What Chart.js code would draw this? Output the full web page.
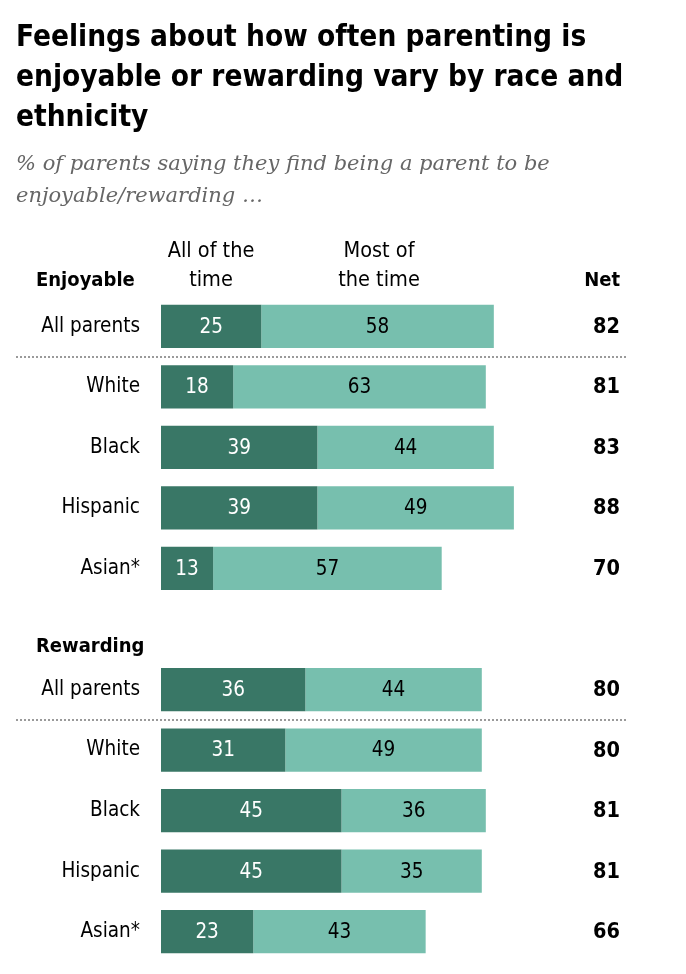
<!DOCTYPE html>
<html>
<head>
<meta charset="utf-8">
<script src="https://cdn.jsdelivr.net/npm/chart.js@4.4.1/dist/chart.umd.min.js"></script>
<style>
  html, body { margin: 0; padding: 0; background: #fff; }
  #wrap { position: relative; width: 686px; height: 974px; overflow: hidden; }
  #c { position: absolute; left: 0; top: 0; }
  #title { position: absolute; left: 16px; top: 16px; width: 670px;
    font-family: "DejaVu Sans Condensed", "Liberation Sans Narrow", sans-serif;
    font-weight: bold; font-size: 29.5px; line-height: 40px; color: #000; }
  #sub { position: absolute; left: 16px; top: 147px; width: 670px;
    font-family: "DejaVu Serif", "Liberation Serif", serif; font-style: italic;
    font-size: 21px; line-height: 32px; color: #666; }
</style>
</head>
<body>
<div id="wrap">
  <canvas id="c" width="686" height="974"></canvas>
  <div id="title">Feelings about how often parenting is<br>enjoyable or rewarding vary by race and<br>ethnicity</div>
  <div id="sub">% of parents saying they find being a parent to be<br>enjoyable/rewarding …</div>
</div>
<script>
const categories = ["All parents", "White", "Black", "Hispanic", "Asian*", "", "All parents", "White", "Black", "Hispanic", "Asian*"];
const allOfTheTime = [25, 18, 39, 39, 13, null, 36, 31, 45, 45, 23];
const mostOfTheTime = [58, 63, 44, 49, 57, null, 44, 49, 36, 35, 43];
const netValues = [82, 81, 83, 88, 70, null, 80, 80, 81, 81, 66];
const seriesNames = ["All of the time", "Most of the time"];
const sectionNames = ["Enjoyable", "Rewarding"];

const FONT = '"DejaVu Sans Condensed", "Liberation Sans Narrow", sans-serif';
const DARK = '#397766';
const LIGHT = '#77bfae';

const overlay = {
  id: 'overlay',
  afterDatasetsDraw(chart) {
    const ctx = chart.ctx;
    const ys = chart.scales.y;
    ctx.save();
    chart.data.datasets.forEach((ds, di) => {
      const meta = chart.getDatasetMeta(di);
      meta.data.forEach((el, i) => {
        const v = ds.data[i];
        if (v == null) return;
        const cx = (el.x + el.base) / 2;
        ctx.font = '20.5px ' + FONT;
        ctx.fillStyle = di === 0 ? '#fff' : '#000';
        ctx.textAlign = 'center';
        ctx.textBaseline = 'middle';
        ctx.fillText(String(v), cx, el.y + 1);
      });
    });
    const netX = 620;
    ctx.font = 'bold 21.5px ' + FONT;
    ctx.fillStyle = '#000';
    ctx.textAlign = 'right';
    ctx.textBaseline = 'middle';
    netValues.forEach((v, i) => {
      if (v == null) return;
      ctx.fillText(String(v), netX, ys.getPixelForValue(i) + 1);
    });
    const step = ys.getPixelForValue(1) - ys.getPixelForValue(0);
    const hdrY = ys.getPixelForValue(0) - step * 0.75;
    ctx.font = 'bold 20px ' + FONT;
    ctx.fillText('Net', netX, hdrY);
    ctx.textAlign = 'left';
    ctx.fillText(sectionNames[0], 36, hdrY);
    ctx.fillText(sectionNames[1], 36, ys.getPixelForValue(6) - step * 0.7);
    ctx.font = '21.5px ' + FONT;
    ctx.textAlign = 'center';
    const h1x = 211, h2x = 379;
    ctx.fillText('All of the', h1x, hdrY - 29);
    ctx.fillText('time', h1x, hdrY);
    ctx.fillText('Most of', h2x, hdrY - 29);
    ctx.fillText('the time', h2x, hdrY);
    ctx.strokeStyle = '#9a9a9a';
    ctx.lineWidth = 2;
    ctx.setLineDash([2, 2]);
    [0, 6].forEach(i => {
      const y = Math.round(ys.getPixelForValue(i) + step / 2);
      ctx.beginPath();
      ctx.moveTo(16, y);
      ctx.lineTo(628, y);
      ctx.stroke();
    });
    ctx.restore();
  }
};

new Chart(document.getElementById('c'), {
  type: 'bar',
  data: {
    labels: categories,
    datasets: [
      { label: seriesNames[0], data: allOfTheTime, backgroundColor: DARK, borderWidth: 0,
        barPercentage: 0.715, categoryPercentage: 1 },
      { label: seriesNames[1], data: mostOfTheTime, backgroundColor: LIGHT, borderWidth: 0,
        barPercentage: 0.715, categoryPercentage: 1 }
    ]
  },
  options: {
    indexAxis: 'y',
    responsive: false,
    animation: false,
    devicePixelRatio: 1,
    layout: { padding: { left: 0, right: 124, top: 296, bottom: 12 } },
    plugins: { legend: { display: false }, tooltip: { enabled: false } },
    scales: {
      x: { stacked: true, min: 0, max: 100, display: false },
      y: {
        stacked: true,
        grid: { display: false, drawTicks: false },
        border: { display: false },
        ticks: { color: '#000', font: { family: FONT, size: 20.5 }, padding: 21 },
        afterFit(scale) { scale.width = 161; scale.paddingTop = 0; scale.paddingBottom = 0; }
      }
    }
  },
  plugins: [overlay]
});
</script>
</body>
</html>
